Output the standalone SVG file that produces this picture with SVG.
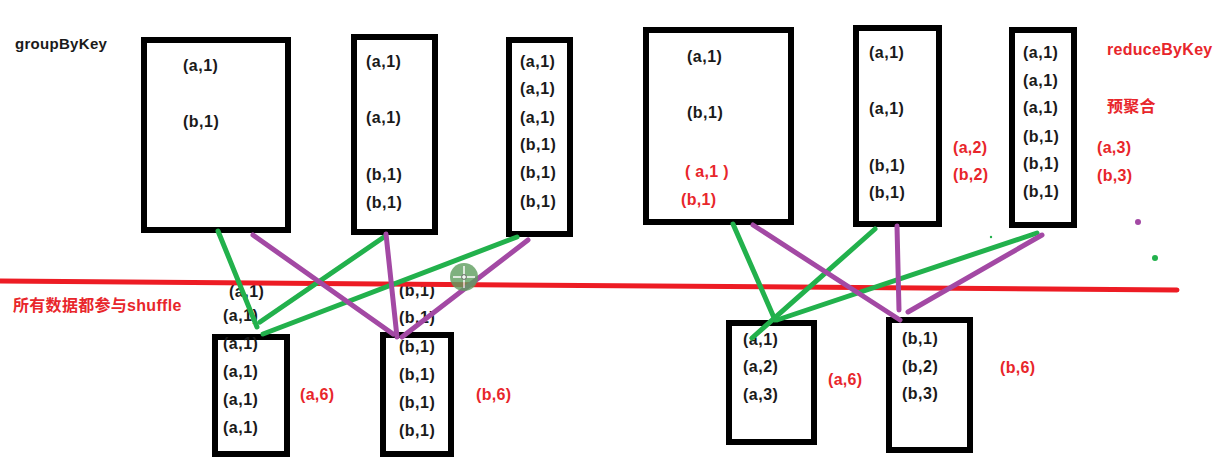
<svg xmlns="http://www.w3.org/2000/svg" width="1224" height="471" viewBox="0 0 1224 471">
<style>
  .box { fill: #ffffff; stroke: #000000; stroke-width: 6; }
  .t { font-family: "Liberation Sans", Arial, sans-serif; font-weight: bold; font-size: 16px; fill: #1a1a1a; letter-spacing: 0.5px; }
  .r { font-family: "Liberation Sans", Arial, "Noto Sans CJK SC", sans-serif; font-weight: bold; font-size: 16px; fill: #e8262b; letter-spacing: 0.3px; }
  .g { stroke: #22b14c; stroke-width: 5; stroke-linecap: round; fill: none; }
  .p { stroke: #a349a4; stroke-width: 5; stroke-linecap: round; fill: none; }
</style>
<rect width="1224" height="471" fill="#ffffff"/>

<text id="title-groupByKey" class="t" x="15" y="49" style="font-size:15px;letter-spacing:0.3px">groupByKey</text>
<text id="title-reduceByKey" class="r" x="1107" y="55">reduceByKey</text>
<text id="note-precombine" class="r" x="1107" y="112">预聚合</text>
<text id="note-shuffle" class="r" x="13" y="311">所有数据都参与shuffle</text>

<!-- groupByKey map-side partitions -->
<g id="g-part1">
  <rect class="box" x="144" y="40" width="144" height="190"/>
  <text class="t" x="183" y="71">(a,1)</text>
  <text class="t" x="183" y="127">(b,1)</text>
</g>
<g id="g-part2">
  <rect class="box" x="354" y="37" width="81" height="195"/>
  <text class="t" x="366" y="67">(a,1)</text>
  <text class="t" x="366" y="123">(a,1)</text>
  <text class="t" x="366" y="180">(b,1)</text>
  <text class="t" x="366" y="208">(b,1)</text>
</g>
<g id="g-part3">
  <rect class="box" x="509" y="40" width="61" height="194"/>
  <text class="t" x="520" y="67">(a,1)</text>
  <text class="t" x="520" y="94">(a,1)</text>
  <text class="t" x="520" y="123">(a,1)</text>
  <text class="t" x="520" y="150">(b,1)</text>
  <text class="t" x="520" y="178">(b,1)</text>
  <text class="t" x="520" y="207">(b,1)</text>
</g>

<!-- groupByKey reduce-side partitions -->
<g id="g-reduce-a">
  <rect class="box" x="215" y="337" width="72" height="117"/>
  <text class="t" x="229" y="297">(a,1)</text>
  <text class="t" x="223" y="321">(a,1)</text>
  <text class="t" x="223" y="349">(a,1)</text>
  <text class="t" x="223" y="377">(a,1)</text>
  <text class="t" x="223" y="405">(a,1)</text>
  <text class="t" x="223" y="433">(a,1)</text>
  <text class="r" x="300" y="400">(a,6)</text>
</g>
<g id="g-reduce-b">
  <rect class="box" x="383" y="335" width="68" height="119"/>
  <text class="t" x="399" y="296">(b,1)</text>
  <text class="t" x="399" y="323">(b,1)</text>
  <text class="t" x="399" y="352">(b,1)</text>
  <text class="t" x="399" y="380">(b,1)</text>
  <text class="t" x="399" y="408">(b,1)</text>
  <text class="t" x="399" y="436">(b,1)</text>
  <text class="r" x="476" y="400">(b,6)</text>
</g>

<!-- reduceByKey map-side partitions -->
<g id="r-part1">
  <rect class="box" x="646" y="30" width="145" height="192"/>
  <text class="t" x="687" y="62">(a,1)</text>
  <text class="t" x="687" y="118">(b,1)</text>
  <text class="r" x="685" y="177">( a,1 )</text>
  <text class="r" x="681" y="205">(b,1)</text>
</g>
<g id="r-part2">
  <rect class="box" x="856" y="28" width="83" height="196"/>
  <text class="t" x="869" y="58">(a,1)</text>
  <text class="t" x="869" y="114">(a,1)</text>
  <text class="t" x="869" y="171">(b,1)</text>
  <text class="t" x="869" y="198">(b,1)</text>
  <text class="r" x="953" y="153">(a,2)</text>
  <text class="r" x="953" y="180">(b,2)</text>
</g>
<g id="r-part3">
  <rect class="box" x="1012" y="30" width="62" height="195"/>
  <text class="t" x="1023" y="58">(a,1)</text>
  <text class="t" x="1023" y="86">(a,1)</text>
  <text class="t" x="1023" y="113">(a,1)</text>
  <text class="t" x="1023" y="142">(b,1)</text>
  <text class="t" x="1023" y="169">(b,1)</text>
  <text class="t" x="1023" y="197">(b,1)</text>
  <text class="r" x="1097" y="153">(a,3)</text>
  <text class="r" x="1097" y="181">(b,3)</text>
</g>

<!-- reduceByKey reduce-side partitions -->
<g id="r-reduce-a">
  <rect class="box" x="729" y="323" width="85" height="119"/>
  <text class="t" x="743" y="345">(a,1)</text>
  <text class="t" x="743" y="372">(a,2)</text>
  <text class="t" x="743" y="400">(a,3)</text>
  <text class="r" x="828" y="385">(a,6)</text>
</g>
<g id="r-reduce-b">
  <rect class="box" x="889" y="320" width="81" height="130"/>
  <text class="t" x="902" y="344">(b,1)</text>
  <text class="t" x="902" y="372">(b,2)</text>
  <text class="t" x="902" y="399">(b,3)</text>
  <text class="r" x="1000" y="373">(b,6)</text>
</g>

<!-- connectors -->
<g id="connectors">
  <line x1="0" y1="281" x2="1177" y2="290" stroke="#ed1c24" stroke-width="5" stroke-linecap="round"/>
  <!-- groupByKey -->
  <line class="g" x1="218" y1="231" x2="257" y2="327"/>
  <line class="g" x1="384" y1="237" x2="260" y2="322"/>
  <line class="g" x1="517" y1="237" x2="263" y2="334"/>
  <line class="p" x1="253" y1="235" x2="393" y2="334"/>
  <line class="p" x1="386" y1="234" x2="397" y2="337"/>
  <line class="p" x1="528" y1="240" x2="402" y2="337"/>
  <!-- reduceByKey -->
  <line class="g" x1="733" y1="224" x2="775" y2="320"/>
  <line class="g" x1="875" y1="229" x2="752" y2="338"/>
  <line class="g" x1="1037" y1="233" x2="777" y2="320"/>
  <line class="p" x1="753" y1="225" x2="900" y2="320"/>
  <line class="p" x1="897" y1="226" x2="899" y2="310"/>
  <line class="p" x1="1042" y1="235" x2="908" y2="312"/>
</g>

<!-- stray marks -->
<circle cx="1138" cy="222" r="3" fill="#a349a4"/>
<circle cx="1155" cy="258" r="3" fill="#22b14c"/>
<circle cx="991" cy="237" r="1.2" fill="#22b14c"/>

<!-- cursor -->
<g id="cursor" opacity="0.8">
  <circle cx="464" cy="277" r="14" fill="#5f9e5f"/>
  <line x1="464" y1="266" x2="464" y2="288" stroke="#ffffff" stroke-width="1.5"/>
  <line x1="453" y1="277" x2="475" y2="277" stroke="#ffffff" stroke-width="1.5"/>
  <circle cx="464" cy="277" r="2.5" fill="none" stroke="#555555" stroke-width="1"/>
</g>
</svg>
